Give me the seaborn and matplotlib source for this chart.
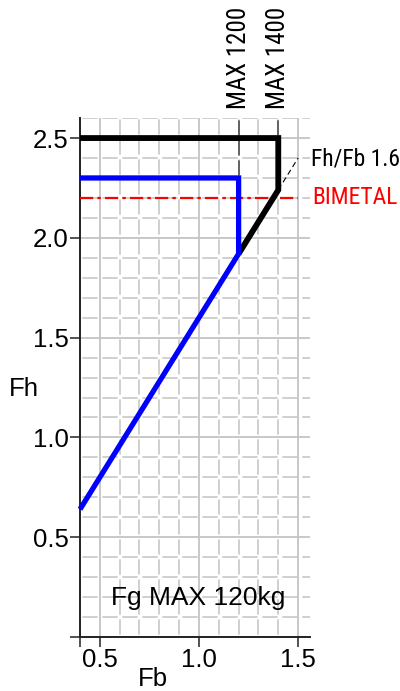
import matplotlib
matplotlib.use("Agg")
import matplotlib.pyplot as plt
from matplotlib import font_manager
from matplotlib.font_manager import FontProperties
from matplotlib.ticker import MultipleLocator, FixedLocator
import seaborn as sns

# ---- data ----
blue_fb = [0.4, 1.2, 1.2, 0.4]
blue_fh = [0.64, 1.92, 2.3, 2.3]
black_fb = [1.2, 1.4, 1.4, 0.4]
black_fh = [1.92, 2.24, 2.5, 2.5]
ratio_fb = [1.4, 1.5]
ratio_fh = [2.24, 2.4]
bimetal_fh = 2.2
bimetal_fb_range = [0.4, 1.5]
max_fb = [1.2, 1.4]
max_top_fh = [2.3, 2.5]
max_labels = ["MAX 1200", "MAX 1400"]
x_ticks = [0.4, 0.5, 1.0, 1.5]
x_ticklabels = ["", "0.5", "1.0", "1.5"]
y_ticks = [0.0, 0.5, 1.0, 1.5, 2.0, 2.5]
y_ticklabels = ["", "0.5", "1.0", "1.5", "2.0", "2.5"]

sns.set_theme(style="white")
names = {f.name for f in font_manager.fontManager.ttflist}
main_font = "Liberation Sans" if "Liberation Sans" in names else "DejaVu Sans"
plt.rcParams["font.family"] = [main_font, "DejaVu Sans"]
plt.rcParams["lines.scale_dashes"] = False
for k in ["text.color", "axes.labelcolor", "xtick.color", "ytick.color"]:
    plt.rcParams[k] = "black"

# look for a condensed / narrow sans face
narrow_fp = None
pref = ["Liberation Sans Narrow", "Roboto Condensed", "Open Sans Condensed",
        "Noto Sans Condensed", "DejaVu Sans Condensed"]
cands = []
for f in font_manager.fontManager.ttflist:
    nm = f.name
    fn = f.fname.lower()
    st = str(f.stretch).lower()
    if f.style != "normal" or f.weight not in (400, "normal", "regular"):
        continue
    if ("narrow" in nm.lower() or "condensed" in nm.lower() or "condensed" in st
            or "narrow" in fn or "condensed" in fn) and "semicondensed" not in fn \
            and "extra" not in fn:
        cands.append(f)
for p in pref:
    for f in cands:
        if f.name.startswith(p.split()[0]):
            narrow_fp = f.fname
            break
    if narrow_fp:
        break
if narrow_fp is None and cands:
    narrow_fp = cands[0].fname

if narrow_fp:
    def nprops(size):
        return FontProperties(fname=narrow_fp, size=size)
    max_size, side_size = 18, 17
else:
    def nprops(size):
        return FontProperties(family=main_font, size=size)
    max_size, side_size = 15, 14.5

fig = plt.figure(figsize=(4.0, 6.91), dpi=100)
ax = fig.add_axes([0.2, 0.0781, 0.575, 0.751])
ax.set_xlim(0.4, 1.56)
ax.set_ylim(0.0, 2.6)

# grid
ax.xaxis.set_major_locator(FixedLocator(x_ticks))
ax.yaxis.set_major_locator(FixedLocator(y_ticks))
ax.set_xticklabels(x_ticklabels)
ax.set_yticklabels(y_ticklabels)
ax.xaxis.set_minor_locator(MultipleLocator(0.1))
ax.yaxis.set_minor_locator(MultipleLocator(0.1))
ax.grid(True, which="major", color="#c4c4c4", linewidth=1.3, linestyle="-")
ax.grid(True, which="minor", color="#cccccc", linewidth=1.3, linestyle=(12.7, (11.0, 3.4)))
ax.set_axisbelow(True)
ax.tick_params(which="minor", length=0)
ax.tick_params(which="major", direction="out", length=7, width=1.1, color="#222222",
               labelsize=18.5, pad=1, bottom=True, left=True, labelcolor="black")

for s in ["top", "right"]:
    ax.spines[s].set_visible(False)
for s in ["left", "bottom"]:
    ax.spines[s].set_color("#222222")
    ax.spines[s].set_linewidth(1.4)

# dark dashed MAX markers above curve
ax.vlines(max_fb, max_top_fh, [2.6, 2.6], colors="#444444", linewidth=1.1,
          linestyles=[(12.7, (11.0, 3.4))], zorder=2)

# red bimetal line
ax.hlines(bimetal_fh, bimetal_fb_range[0], bimetal_fb_range[1], colors="#ff0000",
          linewidth=1.6, linestyles=[(0, (9.5, 3.0, 2.5, 3.0))], zorder=3)

# ratio line
sns.lineplot(x=ratio_fb, y=ratio_fh, ax=ax, color="black", linewidth=0.8,
             linestyle=(0, (4, 2.5)), sort=False, estimator=None, zorder=3)

# main curves
sns.lineplot(x=black_fb, y=black_fh, ax=ax, color="black", linewidth=4.2,
             sort=False, estimator=None, zorder=4)
sns.lineplot(x=blue_fb, y=blue_fh, ax=ax, color="#0000ff", linewidth=3.8,
             sort=False, estimator=None, zorder=5)
for line in ax.lines:
    line.set_solid_capstyle("butt")
    line.set_solid_joinstyle("miter")
    line.set_clip_on(False)

# labels
for fb, lab in zip(max_fb, max_labels):
    ax.text(fb, 2.648, lab, rotation=90, ha="center", va="bottom",
            fontproperties=nprops(max_size), color="black", clip_on=False)
ax.text(1.567, 2.397, "Fh/Fb 1.6", ha="left", va="center",
        fontproperties=nprops(side_size), color="black", clip_on=False)
ax.text(1.572, bimetal_fh, "BIMETAL", ha="left", va="center",
        fontproperties=nprops(side_size), color="#ff0000", clip_on=False)
ax.text(0.997, 0.196, "Fg MAX 120kg", ha="center", va="center", fontsize=19, color="black")

ax.set_xlabel("Fb", fontsize=18.5, color="black")
ax.set_ylabel("Fh", fontsize=18.5, rotation=0, color="black")
ax.xaxis.set_label_coords(0.317, -0.081)
ax.yaxis.set_label_coords(-0.243, 0.478)
ax.xaxis.label.set_va("center")
ax.yaxis.label.set_va("center")
ax.yaxis.label.set_ha("center")
ax.xaxis.label.set_ha("center")

fig.savefig("out.png", dpi=100)
